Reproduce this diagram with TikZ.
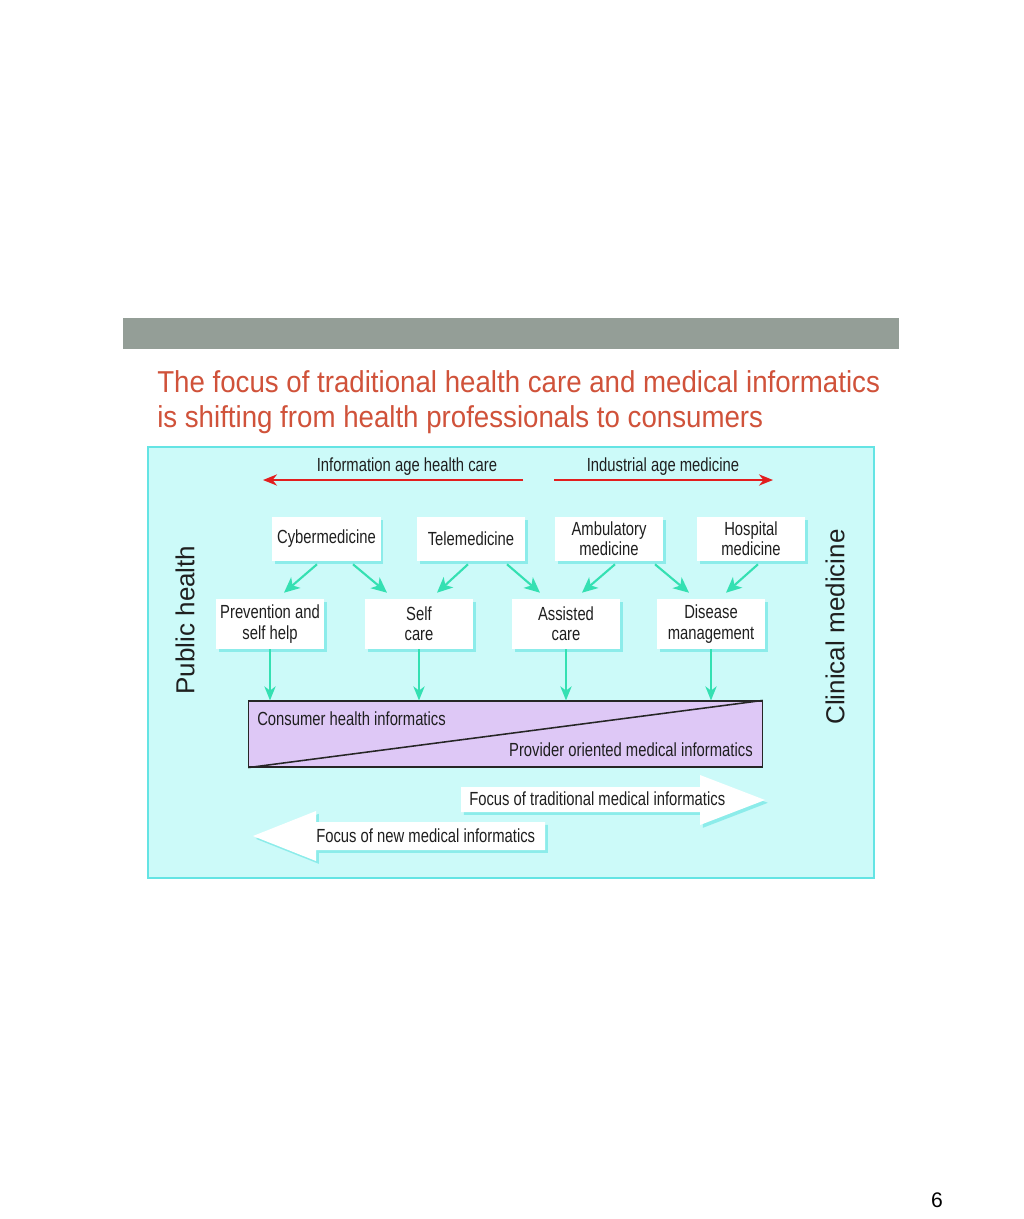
\documentclass[tikz,border=0pt]{standalone}
\usepackage{fontspec}
\setmainfont{Liberation Sans}
\newfontfamily\condfont[FakeStretch=0.78]{Liberation Sans}
\newfontfamily\titlefont[FakeStretch=0.915]{Liberation Sans}
\usetikzlibrary{arrows.meta,calc,shadows}
\definecolor{barg}{RGB}{148,158,151}
\definecolor{titler}{RGB}{208,82,58}
\definecolor{panel}{RGB}{204,250,249}
\definecolor{panelb}{RGB}{100,228,228}
\definecolor{shade}{RGB}{140,236,234}
\definecolor{arrg}{RGB}{52,224,178}
\definecolor{arrr}{RGB}{226,30,30}
\definecolor{lilac}{RGB}{222,200,246}

\begin{document}
\begin{tikzpicture}[x=0.025cm,y=-0.025cm]
\tikzstyle{every node}+=[inner sep=0pt,text=black!88]
\tikzstyle{boxa}=[rectangle,fill=white,align=center,minimum width=2.7cm,
  font=\condfont\fontsize{13.5}{14.5}\selectfont,
  drop shadow={shadow xshift=2pt,shadow yshift=-2pt,fill=shade,opacity=1}]
\tikzstyle{lab}=[font=\condfont\fontsize{13.5}{14.5}\selectfont]
\tikzstyle{garrow}=[draw=arrg,line width=1.5pt,-{Stealth[length=11pt,width=10pt,inset=3pt]}]
\tikzstyle{varrow}=[draw=arrg,line width=1.2pt,-{Stealth[length=10pt,width=8pt,inset=3pt]}]
\tikzstyle{rarrow}=[draw=arrr,line width=1.3pt,-{Stealth[length=10pt,width=8pt]}]
\tikzstyle{bigarrow}=[fill=white,drop shadow={shadow xshift=2pt,shadow yshift=-2pt,fill=shade,opacity=1}]
\useasboundingbox (0,0) rectangle (1024,1219);
\fill [white] (0,0) rectangle (1024,1219);
% header bar and title
\fill [barg] (123,318) rectangle (899,349);
\node [anchor=base west,text=titler,font=\titlefont\fontsize{21.5}{25}\selectfont] (title1) at (157,392) {The focus of traditional health care and medical informatics};
\node [anchor=base west,text=titler,font=\titlefont\fontsize{21.5}{25}\selectfont] (title2) at (157,427) {is shifting from health professionals to consumers};
% panel
\draw [panelb,fill=panel,line width=1.2pt] (148,447) rectangle (874,878);
\node [lab] (infoage) at (407,467) {Information age health care};
\node [lab] (indage) at (663,467) {Industrial age medicine};
\coordinate (ia1) at (523,480);
\coordinate (ia2) at (263,480);
\coordinate (im1) at (554,480);
\coordinate (im2) at (773,480);
\draw [rarrow] (ia1) -- (ia2);
\draw [rarrow] (im1) -- (im2);
\node [rotate=90,font=\fontsize{18.5}{20}\selectfont] (pubh) at (185,620) {Public health};
\node [rotate=90,font=\fontsize{18.5}{20}\selectfont] (clinm) at (835,627) {Clinical medicine};
% upper row
\node [boxa,minimum height=1.1cm] (cyber) at (326.5,539) {Cybermedicine};
\node [boxa,minimum height=1.1cm] (tele) at (471,539) {Telemedicine};
\node [boxa,minimum height=1.1cm] (ambul) at (609,539) {Ambulatory\\medicine};
\node [boxa,minimum height=1.1cm] (hosp) at (751,539) {Hospital\\medicine};
% lower row
\node [boxa,minimum height=1.25cm] (prevent) at (270,624) {Prevention and\\self help};
\node [boxa,minimum height=1.25cm] (selfc) at (419,624) {Self\\care};
\node [boxa,minimum height=1.25cm] (assist) at (566,624) {Assisted\\care};
\node [boxa,minimum height=1.25cm] (disease) at (711,624) {Disease\\management};
\draw [garrow] ($(cyber.south)+(-9.5,3)$) -- ($(prevent.north)+(14,-6)$);
\draw [garrow] ($(cyber.south)+(26.5,3)$) -- ($(selfc.north)+(-32,-6)$);
\draw [garrow] ($(tele.south)+(-3,3)$) -- ($(selfc.north)+(18,-6)$);
\draw [garrow] ($(tele.south)+(36,3)$) -- ($(assist.north)+(-26,-6)$);
\draw [garrow] ($(ambul.south)+(6,3)$) -- ($(assist.north)+(16,-6)$);
\draw [garrow] ($(ambul.south)+(46,3)$) -- ($(disease.north)+(-22,-6)$);
\draw [garrow] ($(hosp.south)+(7,3)$) -- ($(disease.north)+(15,-6)$);
% informatics box
\node [draw=black!85,fill=lilac,line width=0.8pt,minimum width=12.825cm,minimum height=1.65cm] (inform) at (505.5,734) {};
\draw [black!85,line width=1.1pt] (inform.south west) -- (inform.north east);
\node [lab,anchor=west] (consumer) at (257,719) {Consumer health informatics};
\node [lab,anchor=east] (provider) at (753,750) {Provider oriented medical informatics};
\draw [varrow] (prevent) -- (prevent |- inform.north);
\draw [varrow] (selfc) -- (selfc |- inform.north);
\draw [varrow] (assist) -- (assist |- inform.north);
\draw [varrow] (disease) -- (disease |- inform.north);
% focus arrows
\path [bigarrow] (461,787) -- (700,787) -- (700,775) -- (765,800) -- (700,825) -- (700,812) -- (461,812) -- cycle;
\node [lab,anchor=west] (tradf) at (469,799) {Focus of traditional medical informatics};
\path [bigarrow] (545,822) -- (316,822) -- (316,811) -- (253,836) -- (316,861) -- (316,850) -- (545,850) -- cycle;
\node [lab,anchor=west] (newf) at (316,836) {Focus of new medical informatics};
% page number
\node [font=\fontsize{15}{16}\selectfont,text=black] (pnum) at (937,1200) {6};
\end{tikzpicture}
\end{document}
